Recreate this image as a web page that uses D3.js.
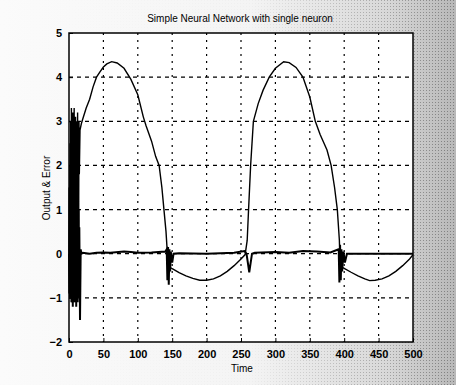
<!DOCTYPE html>
<html>
<head>
<meta charset="utf-8">
<script src="https://cdn.jsdelivr.net/npm/d3@7"></script>
<style>
  body { margin: 0; background: #fff; }
  svg { display: block; }
  text { font-family: "Liberation Sans", Arial, sans-serif; fill: #000; }
</style>
</head>
<body>
<div id="chart"></div>
<script>
// values
const outputTime = [0, 0.5, 1, 1.5, 2, 2.5, 3, 3.5, 4, 4.5, 5, 5.5, 6, 6.5, 7, 7.5, 8, 8.5, 9, 9.5,
  10, 10.5, 11, 11.5, 12, 12.5, 13, 13.5, 14, 14.5, 15, 16, 18, 20, 25, 30, 35, 40, 45, 50, 55, 62,
  70, 80, 90, 100, 108, 112, 120, 126, 131, 135, 138, 141, 143, 144, 146, 150, 160, 170, 180, 190,
  200, 210, 220, 230, 240, 250, 256, 259, 261, 264, 268, 275, 282, 291, 300, 312, 320, 330, 340,
  350, 358, 365, 375, 381, 386, 390, 393, 394, 396, 400, 410, 420, 430, 437, 445, 455, 465, 475,
  485, 495, 500];
const outputValue = [0, 1.5, -0.5, 2.5, -0.8, 3.0, -1.0, 3.3, -1.1, 2.9, -0.9, 3.2, -1.0, 2.6, -1.1,
  3.3, -0.7, 2.8, -1.0, 3.1, -0.8, 3.0, -1.0, 2.7, -0.5, 3.2, -0.6, 2.9, 0.5, 3.0, 1.8, 2.8, 2.95,
  3.05, 3.3, 3.5, 3.78, 4.0, 4.12, 4.23, 4.3, 4.35, 4.32, 4.2, 3.95, 3.6, 3.1, 2.9, 2.55, 2.2, 2.0,
  1.5, 1.0, 0.5, 0.0, -0.3, -0.3, -0.34, -0.43, -0.5, -0.56, -0.6, -0.6, -0.57, -0.5, -0.4, -0.27,
  -0.12, -0.02, 0.3, 1.0, 2.0, 3.0, 3.4, 3.7, 4.0, 4.2, 4.35, 4.33, 4.22, 4.0, 3.55, 3.0, 2.7, 2.35,
  2.0, 1.5, 1.0, 0.3, -0.3, -0.3, -0.33, -0.42, -0.5, -0.57, -0.61, -0.6, -0.57, -0.5, -0.4, -0.27,
  -0.12, -0.02];

const errorTime = [0, 0.5, 1, 1.5, 2, 2.5, 3, 3.5, 4, 4.5, 5, 5.5, 6, 6.5, 7, 7.5, 8, 8.5, 9, 9.5,
  10, 10.5, 11, 11.5, 12, 12.5, 13, 13.5, 14, 14.5, 15, 16, 17, 18, 20, 30, 40, 50, 60, 80, 90, 100,
  120, 140, 142, 143, 144, 145, 146, 147, 148, 150, 152, 160, 200, 240, 255, 258, 262, 266, 270,
  300, 320, 340, 360, 380, 392, 393, 394, 395, 396, 397, 399, 401, 404, 450, 500];
const errorValue = [0, -0.9, 1.5, -1.0, 2.0, -0.8, 1.2, -1.1, 2.4, -0.9, 1.8, -1.2, 2.2, -0.7, 1.6,
  -1.0, 2.5, -1.1, 1.4, -0.8, 2.1, -1.2, 1.7, -0.9, 1.3, -1.1, 1.9, -1.0, 1.0, -0.8, 0.6, -1.5, 0.1,
  0, 0.02, 0, 0.02, 0.03, 0.02, 0.05, 0.04, 0.02, 0.03, 0.05, 0.1, -0.6, 0.15, -0.7, 0.1, -0.4, 0.05,
  -0.2, 0, 0.01, 0, 0.02, 0.06, 0, -0.42, 0, 0.02, 0.04, 0.02, 0.06, 0.05, 0.03, 0.1, -0.65, 0.2,
  -0.6, 0.1, -0.4, 0.05, -0.2, 0, 0, 0];

const xTicks = [0, 50, 100, 150, 200, 250, 300, 350, 400, 450, 500];
const yTicks = [-2, -1, 0, 1, 2, 3, 4, 5];

const width = 456, height = 385;
const margin = { top: 33, right: 43, bottom: 43, left: 69 };

const svg = d3.select("#chart").append("svg")
  .attr("width", width)
  .attr("height", height);

// scanned paper background: nearly white on the left, grey stipple on the right
const defs = svg.append("defs");
const grad = defs.append("linearGradient").attr("id", "bg");
grad.append("stop").attr("offset", "0%").attr("stop-color", "#fbfbfb");
grad.append("stop").attr("offset", "55%").attr("stop-color", "#f4f4f4");
grad.append("stop").attr("offset", "85%").attr("stop-color", "#d8d8d8");
grad.append("stop").attr("offset", "100%").attr("stop-color", "#b8b8b8");
const stip = defs.append("pattern").attr("id", "stip")
  .attr("width", 3).attr("height", 3).attr("patternUnits", "userSpaceOnUse");
stip.append("rect").attr("width", 1).attr("height", 1).attr("fill", "#555");
const fade = defs.append("linearGradient").attr("id", "fade");
fade.append("stop").attr("offset", "0%").attr("stop-color", "#000");
fade.append("stop").attr("offset", "55%").attr("stop-color", "#080808");
fade.append("stop").attr("offset", "100%").attr("stop-color", "#999");
defs.append("mask").attr("id", "stipMask")
  .append("rect").attr("width", width).attr("height", height).attr("fill", "url(#fade)");

svg.append("rect").attr("width", width).attr("height", height).attr("fill", "url(#bg)");
svg.append("rect").attr("width", width).attr("height", height)
  .attr("fill", "url(#stip)").attr("mask", "url(#stipMask)");

const x = d3.scaleLinear().domain([0, 500]).range([margin.left, width - margin.right]);
const y = d3.scaleLinear().domain([-2, 5]).range([height - margin.bottom, margin.top]);

svg.append("rect")
  .attr("x", x(0)).attr("y", y(5))
  .attr("width", x(500) - x(0)).attr("height", y(-2) - y(5))
  .attr("fill", "#fff");

// grid
svg.append("g")
  .selectAll("line")
  .data(xTicks.slice(1, -1))
  .join("line")
  .attr("x1", d => x(d)).attr("x2", d => x(d))
  .attr("y1", y(5)).attr("y2", y(-2))
  .attr("stroke", "#000").attr("stroke-width", 1.2)
  .attr("stroke-dasharray", "2,5");
svg.append("g")
  .selectAll("line")
  .data(yTicks.slice(1, -1))
  .join("line")
  .attr("x1", x(0)).attr("x2", x(500))
  .attr("y1", d => y(d)).attr("y2", d => y(d))
  .attr("stroke", "#000").attr("stroke-width", 1.2)
  .attr("stroke-dasharray", "4,4");

const line = d3.line().x(d => x(d[0])).y(d => y(d[1]));

svg.append("path")
  .datum(errorTime.map((t, i) => [t, errorValue[i]]))
  .attr("d", line)
  .attr("fill", "none").attr("stroke", "#000").attr("stroke-width", 2);

svg.append("path")
  .datum(outputTime.map((t, i) => [t, outputValue[i]]))
  .attr("d", line)
  .attr("fill", "none").attr("stroke", "#000").attr("stroke-width", 1.4);

// axes (MATLAB style, inward ticks, box)
const xAxis = d3.axisBottom(x).tickValues(xTicks).tickSize(-4).tickPadding(8).tickFormat(d3.format("d"));
const yAxis = d3.axisLeft(y).tickValues(yTicks).tickSize(-4).tickPadding(7).tickFormat(d3.format("d"));

const gx = svg.append("g").attr("transform", `translate(0,${y(-2)})`).call(xAxis);
const gy = svg.append("g").attr("transform", `translate(${x(0)},0)`).call(yAxis);
[gx, gy].forEach(g => {
  g.select(".domain").remove();
  g.selectAll(".tick line").attr("stroke", "#000");
  g.selectAll("text").attr("font-size", 11).attr("font-weight", "bold")
    .style("font-family", "'Liberation Sans Narrow', 'Liberation Sans', sans-serif");
});

svg.append("rect")
  .attr("x", x(0)).attr("y", y(5))
  .attr("width", x(500) - x(0)).attr("height", y(-2) - y(5))
  .attr("fill", "none").attr("stroke", "#000").attr("stroke-width", 1.5);

svg.append("text")
  .attr("x", 240).attr("y", 22)
  .attr("text-anchor", "middle")
  .attr("font-size", 10)
  .text("Simple Neural Network with single neuron");

svg.append("text")
  .attr("x", 242).attr("y", 372)
  .attr("text-anchor", "middle")
  .attr("font-size", 10)
  .text("Time");

svg.append("text")
  .attr("transform", "translate(50,188) rotate(-90)")
  .attr("text-anchor", "middle")
  .attr("font-size", 10)
  .text("Output & Error");
</script>
</body>
</html>
